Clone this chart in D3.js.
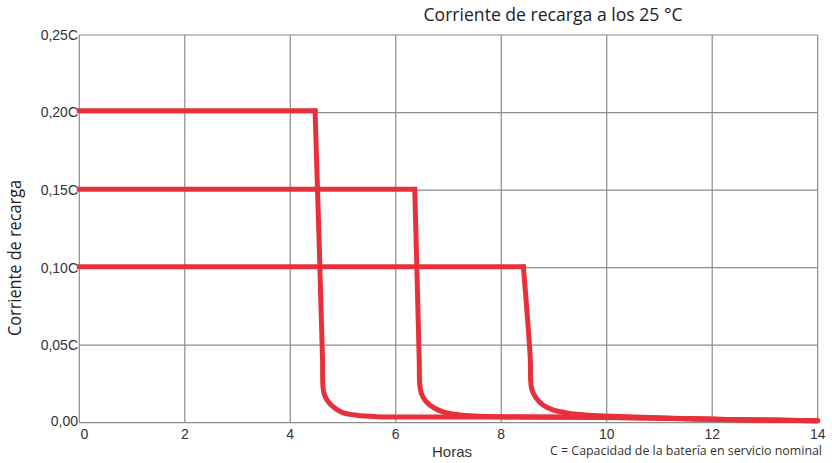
<!DOCTYPE html>
<html><head><meta charset="utf-8">
<script src="https://cdn.jsdelivr.net/npm/d3@7"></script>
<style>body{margin:0;background:#fff}svg{display:block}</style>
</head><body>
<svg id="c" width="832" height="463"></svg>
<script>
const title = "Corriente de recarga a los 25 °C";
const yTitle = "Corriente de recarga";
const xTitle = "Horas";
const note = "C = Capacidad de la batería en servicio nominal";
const xTicks = [0, 2, 4, 6, 8, 10, 12, 14];
const yTicks = [0, 0.05, 0.10, 0.15, 0.20, 0.25];
const yTickLabels = ["0,00", "0,05C", "0,10C", "0,15C", "0,20C", "0,25C"];
// series: [hours, current in C]; first two points = plateau (straight), rest = drop and tail (smooth)
const series020 = [[0,0.2012],[4.47,0.2012],[4.612,0.0404],[4.618,0.0243],[4.64,0.0189],[4.72,0.0135],[4.848,0.0093],[5.005,0.0064],[5.26,0.0048],[5.64,0.0039],[6,0.0037],[8,0.0036],[10,0.0034],[12,0.0022],[14,0.0012]];
const series015 = [[0,0.1506],[6.36,0.1506],[6.445,0.0404],[6.454,0.0254],[6.484,0.019],[6.579,0.0135],[6.738,0.0093],[6.928,0.0067],[7.18,0.0052],[7.497,0.0043],[7.876,0.0039],[10,0.0035],[12,0.0022],[14,0.0012]];
const series010 = [[0,0.1006],[8.42,0.1006],[8.552,0.0404],[8.558,0.0275],[8.583,0.0211],[8.665,0.0157],[8.792,0.0114],[8.981,0.0082],[9.266,0.0061],[9.582,0.005],[9.961,0.0043],[12,0.0023],[14,0.0012]];
const allSeries = [series020, series015, series010];

const svg = d3.select("#c");
const L = 79.3, R = 817.7, T = 35, B = 422.7;
const x = d3.scaleLinear().domain([0, 14]).range([L, R]);
const y = d3.scaleLinear().domain([0, 0.25]).range([B, T]);
const grid = "#8c8c8c";

svg.append("g").selectAll("line").data(xTicks).join("line")
  .attr("x1", d => x(d)).attr("x2", d => x(d)).attr("y1", T).attr("y2", B)
  .attr("stroke", grid).attr("stroke-width", 1.2);
svg.append("g").selectAll("line").data(yTicks).join("line")
  .attr("x1", L).attr("x2", R).attr("y1", d => y(d)).attr("y2", d => y(d))
  .attr("stroke", grid).attr("stroke-width", 1.2);

const font = "'Liberation Sans', Arial, sans-serif";
svg.append("g").selectAll("text").data(yTicks).join("text")
  .attr("x", 78).attr("y", d => y(d) - (d === 0 ? 2 : 0)).attr("dy", "0.35em")
  .attr("text-anchor", "end").attr("font-family", font).attr("font-size", 14)
  .attr("fill", "#333").text((d, i) => yTickLabels[i]);
svg.append("g").selectAll("text").data(xTicks).join("text")
  .attr("x", d => x(d) + (d === 0 ? 5 : 0)).attr("y", 439)
  .attr("text-anchor", "middle").attr("font-family", font).attr("font-size", 14)
  .attr("fill", "#333").text(d => d);

const straight = d3.line().x(d => x(d[0])).y(d => y(d[1]));
const smooth = d3.line().x(d => x(d[0])).y(d => y(d[1])).curve(d3.curveCatmullRom.alpha(0.5));
const red = "#e8303a";
const g = svg.append("g");
allSeries.forEach(s => {
  g.append("path").attr("d", straight(s.slice(0, 2))).attr("fill", "none")
    .attr("stroke", red).attr("stroke-width", 5).attr("stroke-linecap", "square");
  g.append("path").attr("d", smooth(s.slice(1))).attr("fill", "none")
    .attr("stroke", red).attr("stroke-width", 5).attr("stroke-linecap", "round");
});

const tf = "'Open Sans', 'Noto Sans', sans-serif";
svg.append("text").attr("x", 553).attr("y", 21).attr("text-anchor", "middle")
  .attr("font-family", tf).attr("font-size", 19).attr("fill", "#222")
  .attr("textLength", 259).attr("lengthAdjust", "spacingAndGlyphs").text(title);
svg.append("text").attr("transform", "translate(21,258) rotate(-90)").attr("text-anchor", "middle")
  .attr("font-family", tf).attr("font-size", 19).attr("fill", "#222")
  .attr("textLength", 156).attr("lengthAdjust", "spacingAndGlyphs").text(yTitle);
svg.append("text").attr("x", 452).attr("y", 457).attr("text-anchor", "middle")
  .attr("font-family", font).attr("font-size", 15).attr("fill", "#333").text(xTitle);
svg.append("text").attr("x", 822).attr("y", 455).attr("text-anchor", "end")
  .attr("font-family", tf).attr("font-size", 13).attr("fill", "#333")
  .attr("textLength", 272).attr("lengthAdjust", "spacingAndGlyphs").text(note);
</script>
</body></html>
